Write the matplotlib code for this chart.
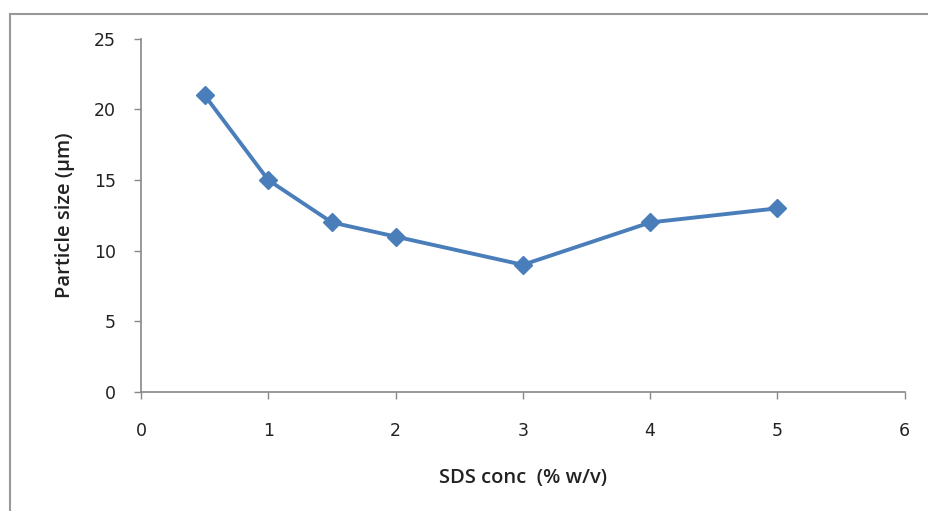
import matplotlib.pyplot as plt
from matplotlib.lines import Line2D

# 数据
sds_conc = [0.5, 1, 1.5, 2, 3, 4, 5]
particle_size = [21, 15, 12, 11, 9, 12, 13]
x_ticks = [0, 1, 2, 3, 4, 5, 6]
y_ticks = [0, 5, 10, 15, 20, 25]

plt.rcParams['font.family'] = ['Open Sans', 'DejaVu Sans']

fig = plt.figure(figsize=(9.29, 5.11), dpi=100)
ax = fig.add_axes([0.1518, 0.233, 0.822, 0.691])

ax.plot(sds_conc, particle_size, color='#4A7EBB', linewidth=2.8,
        marker='D', markersize=9, markerfacecolor='#4A7EBB', markeredgecolor='#4A7EBB')

ax.set_xlim(0, 6)
ax.set_ylim(0, 25)
ax.set_xticks(x_ticks)
ax.set_yticks(y_ticks)
ax.tick_params(axis='both', direction='out', length=5, width=1, color='#888888',
               labelsize=12.5, labelcolor='#222222')
ax.tick_params(axis='x', pad=17)
ax.tick_params(axis='y', pad=13)
for lbl in ax.get_xticklabels() + ax.get_yticklabels():
    lbl.set_family('DejaVu Sans')
for s in ['top', 'right']:
    ax.spines[s].set_visible(False)
for s in ['left', 'bottom']:
    ax.spines[s].set_color('#888888')
    ax.spines[s].set_linewidth(1.2)

ax.set_xlabel('SDS conc  (% w/v)', fontsize=14.5, fontweight='semibold', labelpad=20, color='#222222')
ax.set_ylabel('Particle size (µm)', fontsize=14.5, fontweight='semibold', labelpad=14, color='#222222')

# 外框
fig.add_artist(Line2D([0.0105, 0.0105], [0, 0.973], transform=fig.transFigure, color='#999999', linewidth=1.5))
fig.add_artist(Line2D([0.0105, 1.0], [0.973, 0.973], transform=fig.transFigure, color='#999999', linewidth=1.5))

plt.savefig('out.png', dpi=100)
